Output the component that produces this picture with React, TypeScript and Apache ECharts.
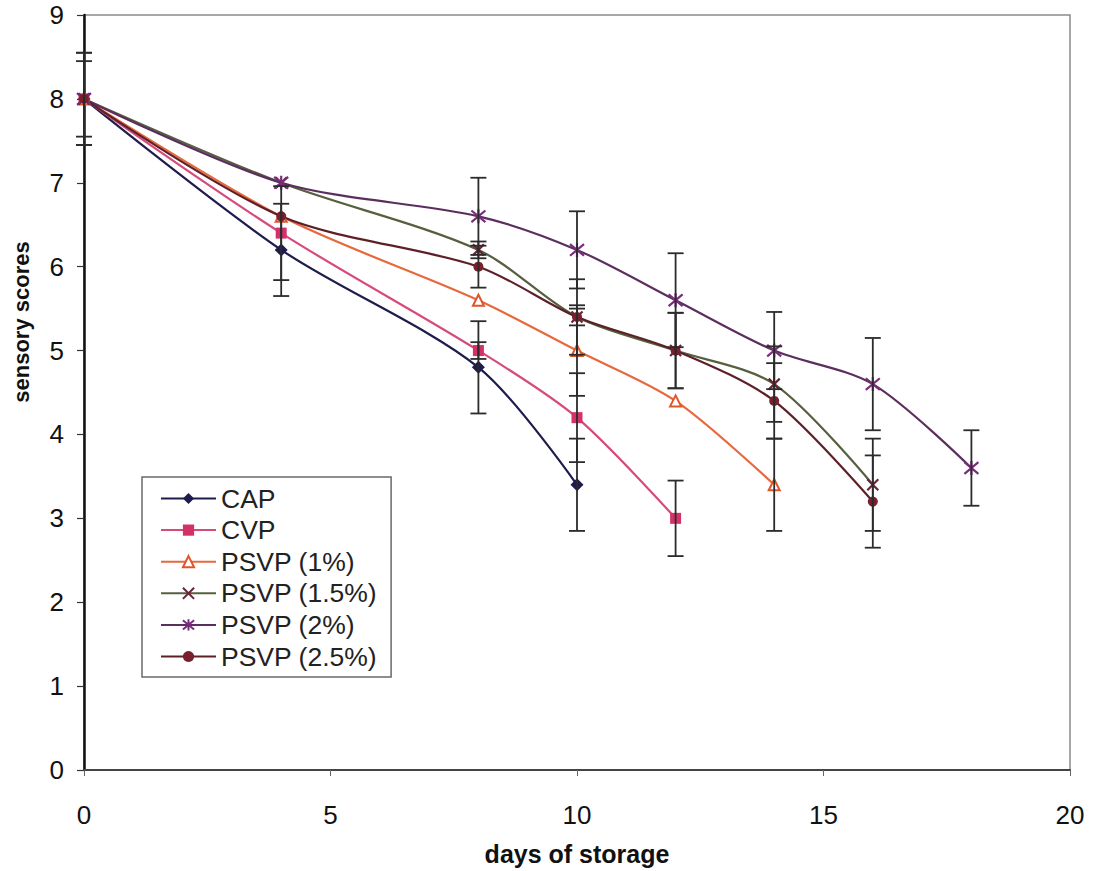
import React, { useEffect, useRef } from "react";
import * as echarts from "echarts";

const days = [0, 4, 8, 10, 12, 14, 16, 18];
const yTicks = [0, 1, 2, 3, 4, 5, 6, 7, 8, 9];

const capScores = [8, 6.2, 4.8, 3.4];
const capErr = [0.55, 0.55, 0.55, 0.55];
const cvpScores = [8, 6.4, 5.0, 4.2, 3.0];
const cvpErr = [0.45, 0.56, 0.1, 0.53, 0.45];
const psvp1Scores = [8, 6.6, 5.6, 5.0, 4.4, 3.4];
const psvp1Err = [0, 0, 0, 0.54, 0, 0.55];
const psvp15Scores = [8, 7.0, 6.2, 5.4, 5.0, 4.6, 3.4];
const psvp15Err = [0, 0, 0.1, 0.1, 0.45, 0.45, 0.55];
const psvp2Scores = [8, 7.0, 6.6, 6.2, 5.6, 5.0, 4.6, 3.6];
const psvp2Err = [0.55, 0, 0.46, 0.46, 0.56, 0.46, 0.55, 0.45];
const psvp25Scores = [8, 6.6, 6.0, 5.4, 5.0, 4.4, 3.2];
const psvp25Err = [0, 0, 0.25, 0.45, 0.45, 0.45, 0.55];

const X_PATH = "path://M0,0L10,10M10,0L0,10";
const AST_PATH = "path://M0,0L10,10M10,0L0,10M5,-1L5,11";

const seriesDefs = [
  { name: "CAP", scores: capScores, err: capErr, line: "#1e1c4c", symbol: "diamond", size: 13, fill: "#1e1c4c", border: "#1e1c4c", bw: 0 },
  { name: "CVP", scores: cvpScores, err: cvpErr, line: "#d64a7c", symbol: "rect", size: 11, fill: "#d4306a", border: "#d4306a", bw: 0 },
  { name: "PSVP (1%)", scores: psvp1Scores, err: psvp1Err, line: "#e8683e", symbol: "triangle", size: 11, fill: "#ffffff", border: "#e0552a", bw: 2 },
  { name: "PSVP (1.5%)", scores: psvp15Scores, err: psvp15Err, line: "#56603f", symbol: X_PATH, size: 11, fill: "none", border: "#6a2436", bw: 2.2 },
  { name: "PSVP (2%)", scores: psvp2Scores, err: psvp2Err, line: "#5c2e5e", symbol: AST_PATH, size: 14, fill: "none", border: "#7a2c7c", bw: 2.2 },
  { name: "PSVP (2.5%)", scores: psvp25Scores, err: psvp25Err, line: "#5e2028", symbol: "circle", size: 10, fill: "#7a1f2c", border: "#7a1f2c", bw: 0 },
];

export default function App() {
  const ref = useRef<HTMLDivElement>(null);
  useEffect(() => {
    if (!ref.current) return;
    const chart = echarts.init(ref.current, null, { renderer: "svg" });

    const errorData: number[][] = [];
    seriesDefs.forEach((s) => {
      s.scores.forEach((v, i) => {
        const e = s.err[i];
        if (e && e > 0) errorData.push([days[i], v - e, v + e]);
      });
    });

    const lineSeries = seriesDefs.map((s) => ({
      name: s.name,
      type: "line",
      smooth: 0.3,
      data: s.scores.map((v, i) => [days[i], v]),
      symbol: s.symbol,
      symbolSize: s.size,
      showSymbol: true,
      z: 3,
      lineStyle: { color: s.line, width: 2.2 },
      itemStyle: { color: s.fill, borderColor: s.border, borderWidth: s.bw },
      color: s.line,
    }));

    const font = "'Liberation Sans', Arial, sans-serif";

    chart.setOption({
      animation: false,
      backgroundColor: "#ffffff",
      grid: {
        left: 84,
        right: 23,
        top: 15,
        bottom: 98,
        show: true,
        borderColor: "#8a8a8a",
        borderWidth: 1.5,
      },
      graphic: [
        {
          type: "text",
          x: 21,
          y: 322,
          rotation: Math.PI / 2,
          style: {
            text: "sensory scores",
            fill: "#111",
            font: "bold 22px 'Liberation Sans', Arial, sans-serif",
            align: "center",
            verticalAlign: "middle",
          },
        },
      ],
      legend: {
        orient: "vertical",
        left: 142,
        top: 477,
        padding: [8, 14, 7, 18],
        itemWidth: 55,
        itemHeight: 14,
        itemGap: 4.6,
        backgroundColor: "#ffffff",
        borderColor: "#6a6a6a",
        borderWidth: 1.5,
        borderRadius: 0,
        selectedMode: false,
        data: seriesDefs.map((s) => s.name),
        textStyle: { fontFamily: font, fontSize: 26.5, lineHeight: 26, color: "#222" },
      },
      xAxis: {
        type: "value",
        min: 0,
        max: 20,
        interval: 5,
        name: "days of storage",
        nameLocation: "middle",
        nameGap: 71,
        nameTextStyle: { fontFamily: font, fontSize: 25, fontWeight: "bold", color: "#111" },
        axisLine: { show: true, onZero: false, lineStyle: { color: "#444", width: 2 } },
        axisTick: { show: true, inside: false, length: 6, lineStyle: { color: "#666", width: 1 } },
        axisLabel: { fontFamily: font, fontSize: 26, color: "#111", margin: 32 },
        splitLine: { show: false },
      },
      yAxis: {
        type: "value",
        min: 0,
        max: 9,
        interval: 1,
        axisLine: { show: true, lineStyle: { color: "#111", width: 2.5 } },
        axisTick: { show: true, inside: false, length: 7, lineStyle: { color: "#333", width: 1.2 } },
        axisLabel: {
          fontFamily: font,
          fontSize: 26,
          color: "#111",
          margin: 20,
          formatter: (v: number) => (yTicks.includes(v) ? String(v) : ""),
        },
        splitLine: { show: false },
      },
      series: [
        {
          name: "errors",
          type: "custom",
          z: 4,
          data: errorData,
          encode: { x: 0, y: [1, 2] },
          renderItem: (params: any, api: any) => {
            const x = api.value(0);
            const lo = api.coord([x, api.value(1)]);
            const hi = api.coord([x, api.value(2)]);
            const w = 8;
            const style = { stroke: "#2b2b2b", lineWidth: 1.8 };
            return {
              type: "group",
              children: [
                { type: "line", shape: { x1: hi[0], y1: hi[1], x2: lo[0], y2: lo[1] }, style },
                { type: "line", shape: { x1: hi[0] - w, y1: hi[1], x2: hi[0] + w, y2: hi[1] }, style },
                { type: "line", shape: { x1: lo[0] - w, y1: lo[1], x2: lo[0] + w, y2: lo[1] }, style },
              ],
            };
          },
        },
        ...lineSeries,
      ],
    });
    return () => chart.dispose();
  }, []);
  return (
    <div
      ref={ref}
      style={{ position: "fixed", left: 0, top: 0, width: 1093, height: 871, background: "#fff" }}
    />
  );
}
